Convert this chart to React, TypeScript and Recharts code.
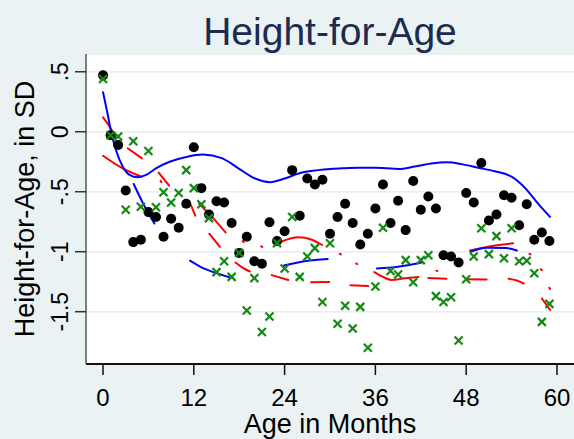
import { ComposedChart, Line, Scatter, XAxis, YAxis, CartesianGrid } from "recharts";

// months 0..59, one observation per month for each group
const MONTHS = [
  0, 1, 2, 3, 4, 5, 6, 7, 8, 9, 10, 11, 12, 13, 14, 15, 16, 17, 18, 19,
  20, 21, 22, 23, 24, 25, 26, 27, 28, 29, 30, 31, 32, 33, 34, 35, 36, 37, 38, 39,
  40, 41, 42, 43, 44, 45, 46, 47, 48, 49, 50, 51, 52, 53, 54, 55, 56, 57, 58, 59,
];

// black dots
const HAZ_GROUP_A = [
  0.47, -0.03, -0.11, -0.49, -0.92, -0.9, -0.67, -0.71, -0.875, -0.725,
  -0.8, -0.6, -0.13, -0.47, -0.69, -0.58, -0.59, -0.76, -1.01, -0.875,
  -1.08, -1.1, -0.755, -0.91, -0.83, -0.32, -0.7, -0.39, -0.44, -0.4,
  -0.85, -0.71, -0.6, -0.76, -0.94, -0.85, -0.64, -0.44, -0.76, -0.575,
  -0.82, -0.41, -0.65, -0.54, -0.64, -1.03, -1.04, -1.09, -0.51, -0.59,
  -0.26, -0.74, -0.69, -0.53, -0.55, -0.78, -0.605, -0.9, -0.84, -0.91,
];

// green crosses
const HAZ_GROUP_B = [
  0.44, -0.03, -0.04, -0.65, -0.08, -0.625, -0.16, -0.63, -0.505, -0.59,
  -0.51, -0.32, -0.47, -0.605, -0.72, -1.17, -1.08, -1.21, -1.01, -1.49,
  -1.22, -1.67, -1.54, -0.93, -1.14, -0.71, -1.21, -1.04, -0.97, -1.42,
  -0.93, -1.6, -1.45, -1.64, -1.46, -1.8, -1.29, -0.8, -1.16, -1.19,
  -1.07, -1.255, -1.07, -1.03, -1.37, -1.42, -1.38, -1.74, -1.23, -1.04,
  -0.805, -1.02, -0.87, -1.055, -0.805, -1.08, -1.075, -1.18, -1.585, -1.435,
];

// smoothed fit, group A  [month, sd]
const FIT_A: [number, number][] = [
  [0, 0.33], [0.6, 0.15], [1.1, -0.01], [1.7, -0.15], [2.6, -0.29], [3.5, -0.36],
  [4.6, -0.38], [5.7, -0.36], [7, -0.305], [8.8, -0.25], [11, -0.21], [13.2, -0.19],
  [15.7, -0.22], [17.9, -0.305], [20.1, -0.39], [22.1, -0.42], [24, -0.39], [26.3, -0.34],
  [28.4, -0.32], [30, -0.31], [31.5, -0.305], [33.7, -0.3], [35.9, -0.3], [37.5, -0.305],
  [39, -0.31], [41.2, -0.29], [43.4, -0.265], [45.5, -0.255], [47.4, -0.27], [49.6, -0.3],
  [51.8, -0.33], [54, -0.375], [55.8, -0.47], [57.5, -0.6], [59.07, -0.71],
];

// smoothed fit, group B (only the visible pieces)
const FIT_B: [number, number][][] = [
  [[4.05, -0.435], [5.4, -0.61], [6.8, -0.765]],
  [[11.5, -1.075], [13, -1.13], [14.6, -1.17], [16.8, -1.215]],
  [[23.9, -1.115], [26.8, -1.078], [29.7, -1.06]],
  [[36.2, -1.14], [39, -1.125], [42.1, -1.09]],
  [[48.6, -1.0], [50.7, -0.968], [53.3, -0.97], [54.7, -0.99]],
];

// red long dash band
const BAND_LONGDASH: [number, number][][] = [
  [[0, -0.2], [2.6, -0.305], [5.1, -0.375]],
  [[11.6, -0.61], [12.2, -0.7]],
  [[14.05, -0.85], [15.45, -0.96]],
  [[17.5, -1.09], [18.5, -1.135], [19.4, -1.165]],
  [[22.3, -1.195], [24.5, -1.236]],
  [[27.5, -1.255], [29.9, -1.252]],
  [[32.7, -1.28], [35.05, -1.285]],
  [[43, -1.22], [45.4, -1.225]],
  [[48, -1.23], [50.7, -1.232]],
  [[53.6, -1.225], [54.7, -1.24], [55.6, -1.265]],
  [[58, -1.39], [59.1, -1.485]],
];

// red dash-dot band
const BAND_DASHDOT: [number, number][][] = [
  [[0, 0.12], [0.8, 0.05], [1.7, -0.05]],
  [[3.26, -0.138], [5.15, -0.222]],
  [[7.35, -0.34], [8.75, -0.45]],
  [[7.6, -0.41], [7.72, -0.42]],
  [[12.7, -0.6], [14.4, -0.71], [16.2, -0.84]],
  [[18.45, -0.912], [18.6, -0.92]],
  [[20.9, -0.955], [21.05, -0.96]],
  [[23.6, -0.915], [25.8, -0.88], [27.6, -0.9], [28.95, -0.944]],
  [[31.3, -1.017], [31.45, -1.022]],
  [[33.45, -1.098], [33.6, -1.103]],
  [[35.85, -1.17], [37, -1.21], [38.1, -1.235], [39.9, -1.222], [41.7, -1.21]],
  [[44.05, -1.158], [44.2, -1.162]],
  [[48.5, -0.99], [50.9, -0.958], [54.2, -0.93]],
  [[56.35, -1.017], [56.5, -1.023]],
  [[57.85, -1.145], [58, -1.155]],
  [[58.98, -1.3], [59.08, -1.31]],
];

const X_TICKS = [0, 12, 24, 36, 48, 60];
const Y_TICKS = [-1.5, -1, -0.5, 0, 0.5];

const FONT = '"Liberation Sans", Arial, Helvetica, sans-serif';
const BG = "#eaf2f3";
const GRID = "#e6eef0";
const BLUE = "#0000ff";
const RED = "#ff0000";
const GREEN = "#138a13";

const toRows = (pts: [number, number][]) => pts.map(([m, v]) => ({ m, v }));

const groupA = MONTHS.map((m, i) => ({ m, v: HAZ_GROUP_A[i] }));
const groupB = MONTHS.map((m, i) => ({ m, v: HAZ_GROUP_B[i] }));

const fmtY = (v: number) => (v === 0 ? "0" : String(v).replace("0.", "."));

function XTick({ x, y, payload }: any) {
  return (
    <text x={x} y={y + 29} textAnchor="middle" fontSize={24} fontFamily={FONT} fill="#000">
      {payload.value}
    </text>
  );
}

function YTick({ x, y, payload }: any) {
  const bx = x - 5;
  return (
    <text
      x={bx}
      y={y}
      transform={`rotate(-90, ${bx}, ${y})`}
      textAnchor="middle"
      fontSize={23}
      fontFamily={FONT}
      fill="#000"
    >
      {fmtY(payload.value)}
    </text>
  );
}

const dotShape = (p: any) => <circle cx={p.cx} cy={p.cy} r={5} fill="#000" />;

const crossShape = (p: any) => {
  const s = 4;
  return (
    <g stroke={GREEN} strokeWidth={2.2}>
      <line x1={p.cx - s} y1={p.cy - s} x2={p.cx + s} y2={p.cy + s} />
      <line x1={p.cx - s} y1={p.cy + s} x2={p.cx + s} y2={p.cy - s} />
    </g>
  );
};

function seg(pts: [number, number][], color: string, key: string) {
  return (
    <Line
      key={key}
      data={toRows(pts)}
      dataKey="v"
      type="monotone"
      stroke={color}
      strokeWidth={2}
      strokeLinecap="round"
      dot={false}
      activeDot={false}
      isAnimationActive={false}
    />
  );
}

export default function App() {
  return (
    <div
      style={{
        position: "absolute",
        left: 0,
        top: 0,
        width: 574,
        height: 439,
        background: BG,
        overflow: "hidden",
        fontFamily: FONT,
      }}
    >
      <ComposedChart width={574} height={439} margin={{ top: 54, right: 0, bottom: 0, left: 0 }}>
        <CartesianGrid horizontal vertical={false} stroke={GRID} strokeWidth={1.5} fill="#ffffff" />
        <XAxis
          type="number"
          dataKey="m"
          domain={[-2.25, 62.25]}
          ticks={X_TICKS}
          interval={0}
          allowDataOverflow
          height={75}
          tickSize={11}
          axisLine={{ stroke: "#111", strokeWidth: 2 }}
          tickLine={{ stroke: "#111", strokeWidth: 1.5 }}
          tick={<XTick />}
        />
        <YAxis
          type="number"
          domain={[-1.936, 0.648]}
          ticks={Y_TICKS}
          interval={0}
          allowDataOverflow
          width={86}
          tickSize={11}
          axisLine={{ stroke: "#555", strokeWidth: 1.5 }}
          tickLine={{ stroke: "#333", strokeWidth: 1.5 }}
          tick={<YTick />}
        />
        {BAND_LONGDASH.map((s, i) => seg(s, RED, `ld${i}`))}
        {BAND_DASHDOT.map((s, i) => seg(s, RED, `dd${i}`))}
        {seg(FIT_A, BLUE, "fitA")}
        {FIT_B.map((s, i) => seg(s, BLUE, `fb${i}`))}
        <Scatter data={groupA} dataKey="v" shape={dotShape} isAnimationActive={false} />
        <Scatter data={groupB} dataKey="v" shape={crossShape} isAnimationActive={false} />
      </ComposedChart>
      <svg
        width={574}
        height={439}
        style={{ position: "absolute", left: 0, top: 0, pointerEvents: "none" }}
      >
        <text x={330} y={45} textAnchor="middle" fontSize={39} fontFamily={FONT} fill="#1c2b4f">
          Height-for-Age
        </text>
        <text x={330} y={433} textAnchor="middle" fontSize={27} fontFamily={FONT} fill="#000">
          Age in Months
        </text>
        <text
          transform="translate(34,209) rotate(-90)"
          textAnchor="middle"
          fontSize={27}
          fontFamily={FONT}
          fill="#000"
        >
          Height-for-Age, in SD
        </text>
      </svg>
    </div>
  );
}
